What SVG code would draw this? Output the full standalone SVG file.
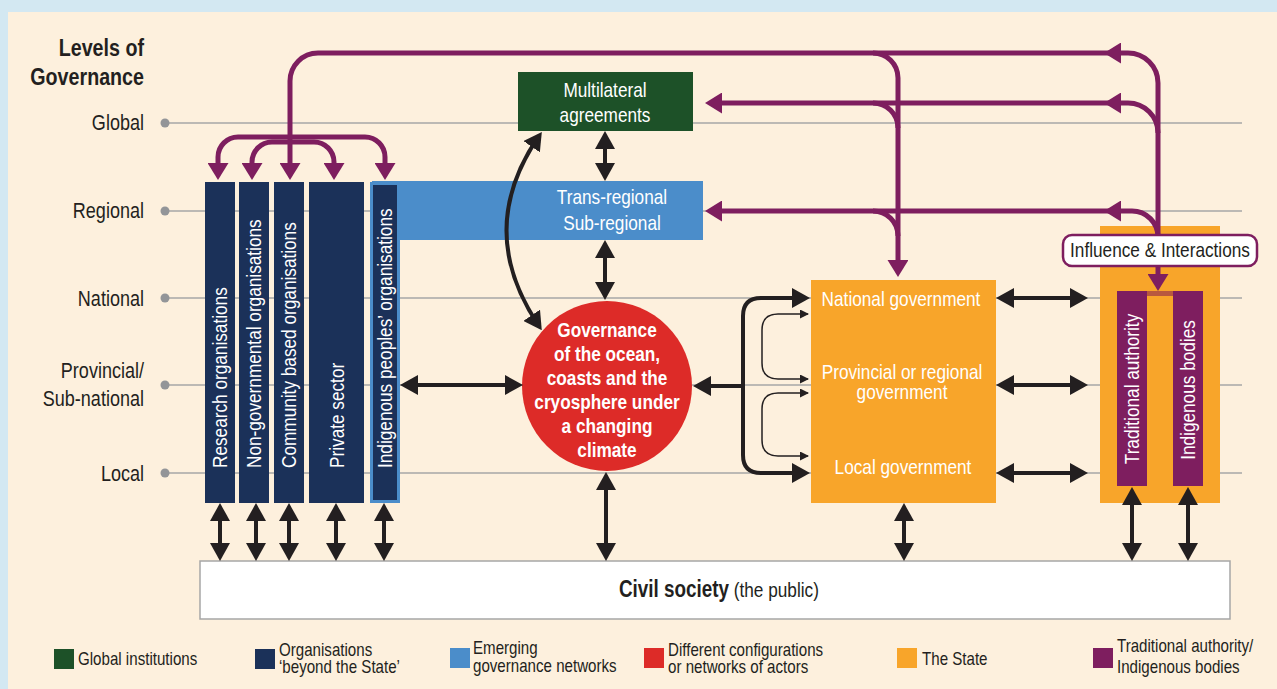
<svg xmlns="http://www.w3.org/2000/svg" width="1277" height="689" viewBox="0 0 1277 689">
<style>
text{font-family:"Liberation Sans",Arial,sans-serif;}
.lvl{font-size:22px;fill:#231f20;text-anchor:end;}
.hd{font-size:24px;font-weight:bold;fill:#231f20;text-anchor:end;}
.wt{font-size:21px;fill:#ffffff;}
.wb{font-size:21px;fill:#ffffff;font-weight:bold;text-anchor:middle;}
.mid{text-anchor:middle;}
.leg{font-size:18px;fill:#231f20;}
.grid{stroke:#a6a6a6;stroke-width:1.5;fill:none;}
.dot{fill:#939598;}
.blk{stroke:#231f20;stroke-width:4;fill:none;marker-start:url(#ah);marker-end:url(#ah);}
.blk1{stroke:#231f20;stroke-width:4;fill:none;marker-end:url(#ah);}
.thin{stroke:#231f20;stroke-width:1.5;fill:none;marker-start:url(#at);marker-end:url(#at);}
.pur{stroke:#7e1e5f;stroke-width:5;fill:none;}
.pe{marker-end:url(#ap);}
.ps{marker-start:url(#ap);}
.navy{fill:#1b3159;}
</style>
<defs>
<marker id="ah" viewBox="0 0 18 20" refX="13" refY="10" markerWidth="18" markerHeight="20" markerUnits="userSpaceOnUse" orient="auto-start-reverse"><path d="M0,0 L18,10 L0,20 z" fill="#231f20"/></marker>
<marker id="at" viewBox="0 0 9 9" refX="8" refY="4.5" markerWidth="9" markerHeight="9" markerUnits="userSpaceOnUse" orient="auto-start-reverse"><path d="M0,0 L9,4.5 L0,9 z" fill="#231f20"/></marker>
<marker id="ap" viewBox="0 0 17 21" refX="11" refY="10.5" markerWidth="17" markerHeight="21" markerUnits="userSpaceOnUse" orient="auto-start-reverse"><path d="M0,0 L17,10.5 L0,21 z" fill="#7e1e5f"/></marker>
</defs>

<rect x="0" y="0" width="1277" height="689" fill="#d3e8f2"/>
<rect x="8" y="12" width="1269" height="677" fill="#fdf0dd"/>

<g id="levels">
<text class="hd" transform="translate(144 56) scale(.82 1)">Levels of</text>
<text class="hd" transform="translate(144 85) scale(.82 1)">Governance</text>
<text class="lvl" transform="translate(144 130) scale(.82 1)">Global</text>
<text class="lvl" transform="translate(144 218) scale(.82 1)">Regional</text>
<text class="lvl" transform="translate(144 306) scale(.82 1)">National</text>
<text class="lvl" transform="translate(144 378) scale(.82 1)">Provincial/</text>
<text class="lvl" transform="translate(144 406) scale(.82 1)">Sub-national</text>
<text class="lvl" transform="translate(144 481) scale(.82 1)">Local</text>
<path class="grid" d="M165 123H1242M165 211H1242M165 298H1242M165 385H1242M165 473H1242"/>
<circle class="dot" cx="165" cy="123" r="4.5"/>
<circle class="dot" cx="165" cy="211" r="4.5"/>
<circle class="dot" cx="165" cy="298" r="4.5"/>
<circle class="dot" cx="165" cy="385" r="4.5"/>
<circle class="dot" cx="165" cy="473" r="4.5"/>
</g>

<g id="trans-regional">
<rect x="372" y="181" width="331" height="59" fill="#4b8dca"/>
<text class="wt mid" transform="translate(612 204) scale(.82 1)">Trans-regional</text>
<text class="wt mid" transform="translate(612 230) scale(.82 1)">Sub-regional</text>
</g>

<g id="multilateral">
<rect x="518" y="72" width="175" height="59" fill="#1d5128"/>
<text class="wt mid" transform="translate(605 97) scale(.82 1)">Multilateral</text>
<text class="wt mid" transform="translate(605 122) scale(.82 1)">agreements</text>
</g>

<g id="research">
<rect class="navy" x="205" y="182" width="30" height="321"/>
<text class="wt" transform="translate(227 468) rotate(-90) scale(.82 1)">Research organisations</text>
</g>
<g id="ngo">
<rect class="navy" x="239" y="182" width="30" height="321"/>
<text class="wt" transform="translate(261 468) rotate(-90) scale(.82 1)">Non-governmental organisations</text>
</g>
<g id="cbo">
<rect class="navy" x="274" y="182" width="30" height="321"/>
<text class="wt" transform="translate(296 468) rotate(-90) scale(.82 1)">Community based organisations</text>
</g>
<g id="private">
<rect class="navy" x="309" y="182" width="55" height="321"/>
<text class="wt" transform="translate(344 468) rotate(-90) scale(.82 1)">Private sector</text>
</g>
<g id="indigenous-orgs">
<rect x="370" y="182" width="30" height="321" fill="#4b8dca"/>
<rect class="navy" x="373" y="185" width="24" height="315"/>
<text class="wt" transform="translate(392 468) rotate(-90) scale(.82 1)">Indigenous peoples’ organisations</text>
</g>

<g id="governance">
<circle cx="607" cy="386" r="85" fill="#dd2b28"/>
<text class="wb" transform="translate(607 337) scale(.82 1)">Governance</text>
<text class="wb" transform="translate(607 361) scale(.82 1)">of the ocean,</text>
<text class="wb" transform="translate(607 385) scale(.82 1)">coasts and the</text>
<text class="wb" transform="translate(607 409) scale(.82 1)">cryosphere under</text>
<text class="wb" transform="translate(607 433) scale(.82 1)">a changing</text>
<text class="wb" transform="translate(607 457) scale(.82 1)">climate</text>
</g>

<g id="state">
<rect x="811" y="280" width="185" height="223" fill="#f8a52a"/>
<text class="wt mid" transform="translate(901 306) scale(.82 1)">National government</text>
<text class="wt mid" transform="translate(902 379) scale(.82 1)">Provincial or regional</text>
<text class="wt mid" transform="translate(902 399) scale(.82 1)">government</text>
<text class="wt mid" transform="translate(903 474) scale(.82 1)">Local government</text>
</g>

<g id="traditional">
<rect x="1100" y="226" width="120" height="277" fill="#f8a52a"/>
<rect x="1147" y="291" width="26" height="5" fill="#b8593f"/>
<rect x="1117" y="291" width="30" height="195" fill="#7e1e5f"/>
<rect x="1173" y="291" width="30" height="195" fill="#7e1e5f"/>
<text class="wt mid" transform="translate(1139 389) rotate(-90) scale(.82 1)">Traditional authority</text>
<text class="wt mid" transform="translate(1195 390) rotate(-90) scale(.82 1)">Indigenous bodies</text>
</g>

<g id="civil-society">
<rect x="200" y="561" width="1030" height="58" fill="#ffffff" stroke="#a6a6a6" stroke-width="1.5"/>
<text transform="translate(619 597) scale(.82 1)" font-size="23" fill="#231f20"><tspan font-weight="bold">Civil society</tspan><tspan font-size="21"> (the public)</tspan></text>
</g>

<g id="connectors">
<path class="blk" d="M605 136V176"/>
<path class="blk" d="M605 245V295"/>
<path class="blk" d="M539 326Q474 230 539 136"/>
<path class="blk" d="M405 385H518"/>
<path class="blk1" d="M743 386H698"/>
<path class="blk1" d="M743 386V316Q743 298 761 298H805"/>
<path class="blk1" d="M743 386V455Q743 473 761 473H805"/>
<path class="thin" d="M808 314H778Q762 314 762 330V363Q762 379 778 379H808"/>
<path class="thin" d="M808 393H778Q762 393 762 409V440Q762 456 778 456H808"/>
<path class="blk" d="M1001 298H1083"/>
<path class="blk" d="M1001 385H1083"/>
<path class="blk" d="M1001 473H1083"/>
<path class="blk" d="M220 508V556"/>
<path class="blk" d="M256 508V556"/>
<path class="blk" d="M289 508V556"/>
<path class="blk" d="M336 508V556"/>
<path class="blk" d="M384 508V556"/>
<path class="blk" d="M606 477V556"/>
<path class="blk" d="M904 508V556"/>
<path class="blk" d="M1132 492V556"/>
<path class="blk" d="M1188 492V556"/>

<path class="pur pe" d="M1110 53H318A28 28 0 0 0 290 81V174"/>
<path class="pur pe ps" d="M218 174V157A20 20 0 0 1 238 137H365A20 20 0 0 1 385 157V174"/>
<path class="pur pe ps" d="M252 174V162A20 20 0 0 1 272 142H314A20 20 0 0 1 334 162V174"/>
<path class="pur pe" d="M1158 237V83A30 30 0 0 0 1128 53H1110"/>
<path class="pur pe" d="M1158 133A30 30 0 0 0 1128 103H1110"/>
<path class="pur pe" d="M1158 237A26 26 0 0 0 1132 211H1110"/>
<path class="pur pe" d="M1110 103H711"/>
<path class="pur pe" d="M1110 211H711"/>
<path class="pur pe" d="M873 53A25 25 0 0 1 898 78V271"/>
<path class="pur" d="M873 103A25 25 0 0 1 898 128"/>
<path class="pur" d="M873 211A25 25 0 0 1 898 236"/>
<path class="pur pe" d="M1158 265V285"/>
</g>

<g id="influence">
<rect x="1063" y="235" width="194" height="31" rx="9" fill="#ffffff" stroke="#7e1e5f" stroke-width="2.5"/>
<text transform="translate(1160 257) scale(.82 1)" font-size="21" fill="#231f20" text-anchor="middle">Influence &amp; Interactions</text>
</g>

<g id="legend">
<rect x="54" y="649" width="20" height="20" fill="#1d5128"/>
<text class="leg" transform="translate(78 665) scale(.84 1)">Global institutions</text>
<rect x="255" y="649" width="20" height="20" fill="#1b3159"/>
<text class="leg" transform="translate(279 656) scale(.84 1)">Organisations</text>
<text class="leg" transform="translate(279 673) scale(.84 1)">‘beyond the State’</text>
<rect x="450" y="648" width="20" height="20" fill="#4b8dca"/>
<text class="leg" transform="translate(473 654) scale(.84 1)">Emerging</text>
<text class="leg" transform="translate(473 672) scale(.84 1)">governance networks</text>
<rect x="644" y="648" width="20" height="20" fill="#dd2b28"/>
<text class="leg" transform="translate(668 656) scale(.84 1)">Different configurations</text>
<text class="leg" transform="translate(668 673) scale(.84 1)">or networks of actors</text>
<rect x="897" y="648" width="20" height="20" fill="#f8a52a"/>
<text class="leg" transform="translate(922 665) scale(.84 1)">The State</text>
<rect x="1093" y="648" width="20" height="20" fill="#7e1e5f"/>
<text class="leg" transform="translate(1117 652) scale(.84 1)">Traditional authority/</text>
<text class="leg" transform="translate(1117 673) scale(.84 1)">Indigenous bodies</text>
</g>
</svg>
